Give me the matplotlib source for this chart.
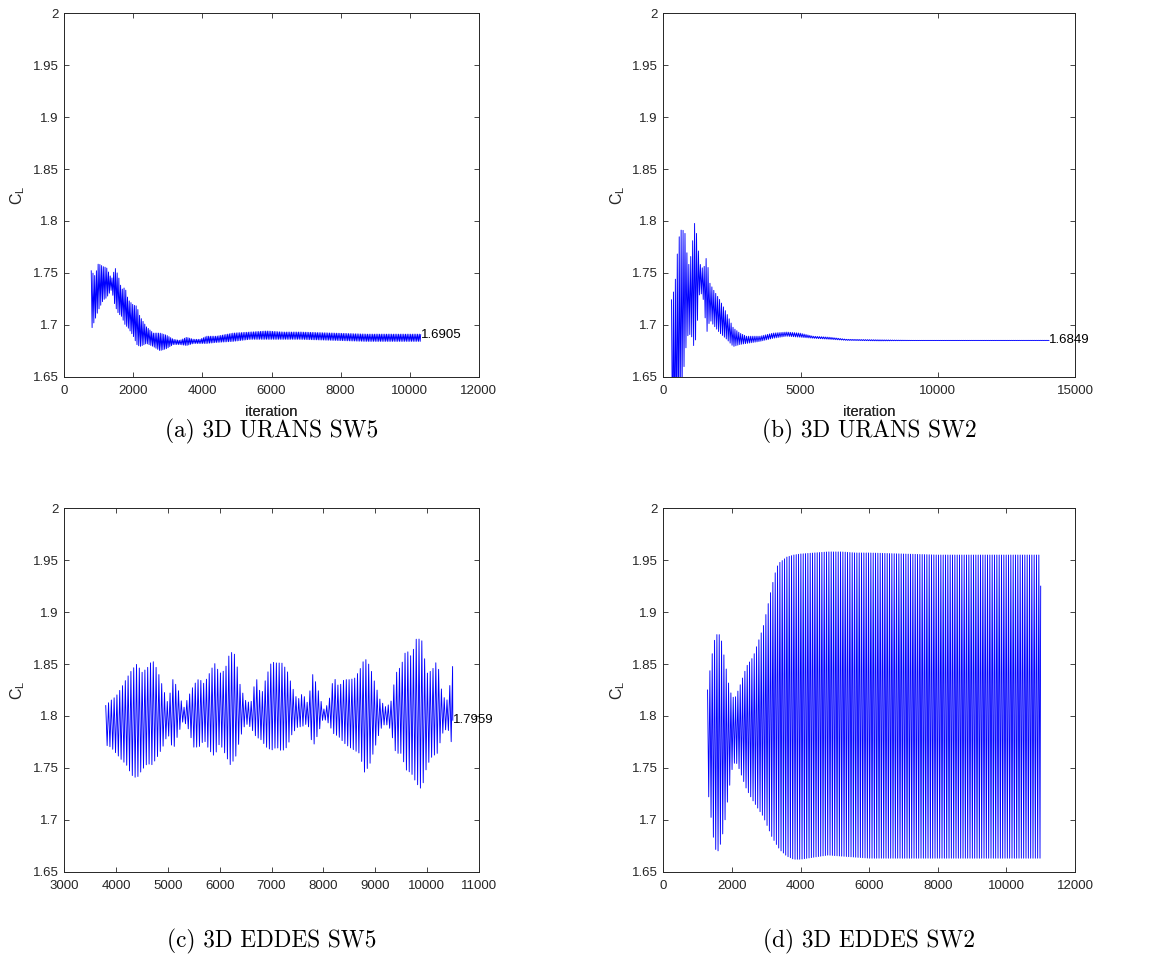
import numpy as np
import matplotlib
matplotlib.use("Agg")
import matplotlib.pyplot as plt

# ---------------------------------------------------------------------------
# Lift-coefficient histories: envelope of the oscillating C_L signal
# (iteration knots, upper and lower bounds), oscillation half period and
# the final converged value of each run.
# ---------------------------------------------------------------------------

# (a) 3D URANS SW5
a_iter = [780, 890, 985, 1130, 1225, 1370, 1470, 1565, 1660, 1760, 1850, 2000,
          2100, 2190, 2380, 2580, 2770, 2960, 3160, 3350, 3540, 3740, 3930,
          4120, 4410, 4890, 5380, 5860, 6340, 6830, 7790, 8750, 9720, 10320]
a_upper = [1.752, 1.747, 1.759, 1.756, 1.755, 1.744, 1.755, 1.747, 1.734, 1.736,
           1.724, 1.719, 1.718, 1.708, 1.698, 1.692, 1.692, 1.690, 1.686, 1.685,
           1.688, 1.686, 1.686, 1.689, 1.689, 1.692, 1.693, 1.694, 1.693, 1.693,
           1.692, 1.691, 1.691, 1.691]
a_lower = [1.695, 1.705, 1.714, 1.724, 1.726, 1.734, 1.718, 1.711, 1.708, 1.700,
           1.697, 1.689, 1.681, 1.679, 1.682, 1.679, 1.675, 1.677, 1.681, 1.681,
           1.680, 1.682, 1.682, 1.682, 1.683, 1.684, 1.686, 1.686, 1.686, 1.686,
           1.685, 1.684, 1.684, 1.684]
a_half = 25
a_final = 1.6905

# (b) 3D URANS SW2
b_iter = [300, 420, 550, 670, 790, 910, 1030, 1130, 1210, 1330, 1460, 1580,
          1700, 1820, 2060, 2310, 2550, 2790, 3030, 3520, 4000, 4490, 4980,
          5460, 6070, 6680, 7890, 9100, 14050]
b_upper = [1.724, 1.737, 1.782, 1.793, 1.788, 1.756, 1.769, 1.799, 1.788, 1.759,
           1.753, 1.766, 1.740, 1.734, 1.724, 1.711, 1.697, 1.692, 1.689, 1.689,
           1.692, 1.693, 1.692, 1.689, 1.688, 1.686, 1.6855, 1.685, 1.685]
b_lower = [1.580, 1.580, 1.600, 1.630, 1.672, 1.692, 1.689, 1.677, 1.692, 1.734,
           1.724, 1.692, 1.705, 1.700, 1.692, 1.686, 1.679, 1.681, 1.682, 1.684,
           1.687, 1.689, 1.688, 1.687, 1.686, 1.685, 1.6845, 1.6848, 1.6849]
b_half = 35
b_final = 1.6849

# (c) 3D EDDES SW5
c_iter = list(range(3800, 10600, 100))
c_upper = [1.810, 1.815, 1.819, 1.827, 1.836, 1.844, 1.850, 1.842, 1.846, 1.854,
           1.844, 1.828, 1.812, 1.836, 1.825, 1.807, 1.819, 1.830, 1.836, 1.831,
           1.841, 1.851, 1.841, 1.844, 1.862, 1.859, 1.828, 1.815, 1.812, 1.838,
           1.819, 1.838, 1.852, 1.851, 1.851, 1.844, 1.828, 1.815, 1.822, 1.812,
           1.841, 1.825, 1.806, 1.812, 1.838, 1.828, 1.835, 1.835, 1.836, 1.844,
           1.856, 1.848, 1.831, 1.815, 1.809, 1.812, 1.841, 1.848, 1.864, 1.857,
           1.875, 1.873, 1.841, 1.844, 1.854, 1.819, 1.815, 1.849]
c_lower = [1.772, 1.770, 1.764, 1.758, 1.753, 1.743, 1.740, 1.748, 1.754, 1.753,
           1.761, 1.770, 1.783, 1.767, 1.783, 1.796, 1.787, 1.770, 1.770, 1.777,
           1.767, 1.761, 1.774, 1.764, 1.753, 1.759, 1.780, 1.793, 1.789, 1.780,
           1.777, 1.770, 1.767, 1.770, 1.766, 1.770, 1.783, 1.789, 1.790, 1.793,
           1.770, 1.783, 1.798, 1.793, 1.783, 1.780, 1.774, 1.770, 1.767, 1.764,
           1.745, 1.754, 1.770, 1.787, 1.793, 1.787, 1.764, 1.764, 1.748, 1.745,
           1.735, 1.729, 1.752, 1.761, 1.764, 1.783, 1.789, 1.769]
c_half = 27
c_final = 1.7959

# (d) 3D EDDES SW2
d_iter = [1290, 1400, 1500, 1600, 1700, 1800, 1900, 2000, 2100, 2200, 2430,
          2620, 2915, 3160, 3300, 3400, 3600, 3800, 4000, 4400, 4800, 5200,
          5600, 6000, 7000, 8000, 9000, 10000, 11000]
d_upper = [1.825, 1.855, 1.874, 1.881, 1.872, 1.852, 1.832, 1.818, 1.818, 1.826,
           1.848, 1.857, 1.886, 1.924, 1.943, 1.948, 1.953, 1.955, 1.956, 1.957,
           1.958, 1.958, 1.957, 1.957, 1.956, 1.955, 1.955, 1.955, 1.955]
d_lower = [1.732, 1.700, 1.672, 1.670, 1.680, 1.700, 1.725, 1.748, 1.757, 1.750,
           1.729, 1.718, 1.703, 1.684, 1.676, 1.671, 1.665, 1.662, 1.662, 1.664,
           1.666, 1.665, 1.664, 1.663, 1.663, 1.663, 1.663, 1.663, 1.663]
d_half = 34
d_final = 1.925

panels = [
    ("(a) 3D URANS SW5", a_iter, a_upper, a_lower, a_half, a_final, True,
     (0, 12000), [0, 2000, 4000, 6000, 8000, 10000, 12000]),
    ("(b) 3D URANS SW2", b_iter, b_upper, b_lower, b_half, b_final, True,
     (0, 15000), [0, 5000, 10000, 15000]),
    ("(c) 3D EDDES SW5", c_iter, c_upper, c_lower, c_half, c_final, True,
     (3000, 11000), [3000, 4000, 5000, 6000, 7000, 8000, 9000, 10000, 11000]),
    ("(d) 3D EDDES SW2", d_iter, d_upper, d_lower, d_half, d_final, False,
     (0, 12000), [0, 2000, 4000, 6000, 8000, 10000, 12000]),
]
y_ticks = [1.65, 1.7, 1.75, 1.8, 1.85, 1.9, 1.95, 2.0]
y_ticklabels = ["1.65", "1.7", "1.75", "1.8", "1.85", "1.9", "1.95", "2"]


def oscillation(knots, upper, lower, half, final):
    """Alternate peaks and troughs along the envelope, ending on the final value."""
    x = np.arange(knots[0], knots[-1], half, dtype=float)
    up = np.interp(x, knots, upper)
    lo = np.interp(x, knots, lower)
    y = np.where(np.arange(x.size) % 2 == 0, up, lo)
    return np.append(x, knots[-1]), np.append(y, final)


W, H = 1164, 966
fig = plt.figure(figsize=(W / 100, H / 100), dpi=100)
fig.patch.set_facecolor("white")

ax_gray = (0.15, 0.15, 0.15)
sans = ["Liberation Sans", "DejaVu Sans"]

# axes boxes in pixels: left, top, right, bottom
boxes = [(64.3, 13.3, 478.7, 376.7), (663.3, 13.3, 1075.0, 376.7),
         (64.3, 508.3, 478.7, 871.7), (663.3, 508.3, 1075.0, 871.7)]
caption_y = [431, 431, 941, 941]

for (cap, kn, up, lo, half, final, show_val, xlim, xticks), box, cy in zip(
        panels, boxes, caption_y):
    l, t, r, b = box
    ax = fig.add_axes([l / W, 1 - b / H, (r - l) / W, (b - t) / H])
    x, y = oscillation(kn, up, lo, half, final)
    ax.plot(x, y, color="#0000ff", linewidth=0.65, antialiased=True)
    if show_val:
        ax.text(x[-1], final, "%.4f" % final, ha="left", va="center",
                fontsize=9.5, family=sans, color="black", clip_on=False)

    ax.set_xlim(*xlim)
    ax.set_ylim(1.65, 2.0)
    ax.set_xticks(xticks)
    ax.set_xticklabels([str(v) for v in xticks])
    ax.set_yticks(y_ticks)
    ax.set_yticklabels(y_ticklabels)
    ax.tick_params(direction="in", length=3.5, width=0.6, colors=ax_gray,
                   top=True, right=True, labelsize=9.5, pad=4)
    ax.tick_params(axis="x", pad=6)
    for lab in ax.get_xticklabels() + ax.get_yticklabels():
        lab.set_family(sans)
        lab.set_color(ax_gray)
    for sp in ax.spines.values():
        sp.set_color(ax_gray)
        sp.set_linewidth(0.7)

    ax.set_xlabel("iteration", fontsize=10.5, family=sans, color=ax_gray)
    ax.xaxis.set_label_coords(0.5, -(412 - b) / (b - t))
    ax.xaxis.label.set_verticalalignment("center")
    ax.set_ylabel(r"$\mathregular{C_L}$", fontsize=11.5, family=sans, color=ax_gray)
    ax.yaxis.set_label_coords(((18 if l < 300 else 618) - l) / (r - l), 0.5)
    ax.yaxis.label.set_verticalalignment("center")

    fig.text((l + r) / 2 / W, 1 - cy / H, cap, ha="center", va="center",
             fontsize=16.8, family="cmr10", color="black")

fig.savefig("out.png", dpi=100, facecolor="white")
